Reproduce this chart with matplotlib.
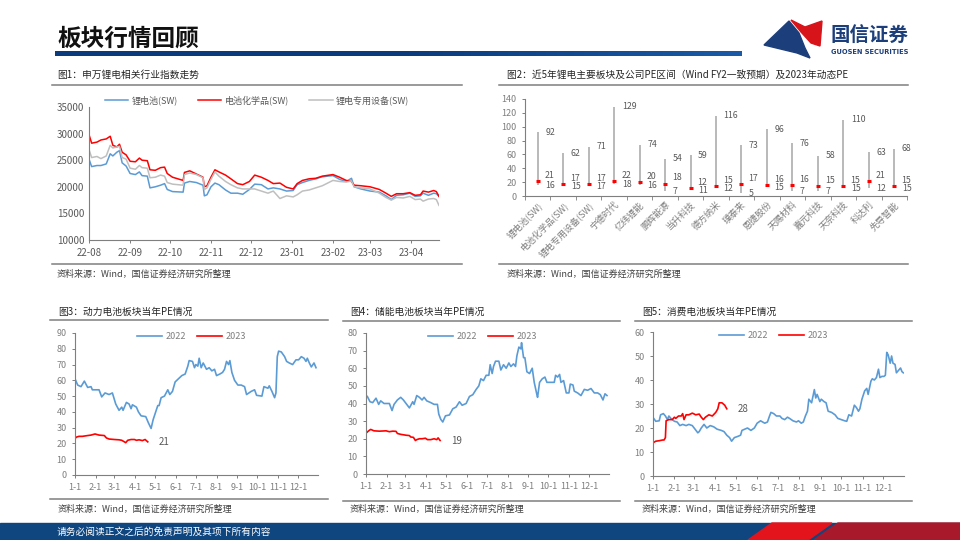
import numpy as np
import pandas as pd
import matplotlib
matplotlib.use('Agg')
import matplotlib.pyplot as plt
from matplotlib.patches import Polygon, Rectangle
from matplotlib.colors import LinearSegmentedColormap

plt.rcParams['font.family'] = ['Noto Sans CJK SC', 'DejaVu Sans']
plt.rcParams['axes.unicode_minus'] = False

# ---------------- data ----------------
# fig1: SW lithium indices
idx_dates = ['2022-08-01', '2022-08-03', '2022-08-07', '2022-08-10', '2022-08-14', '2022-08-17', '2022-08-19',
             '2022-08-22', '2022-08-24', '2022-08-26', '2022-08-29', '2022-09-01', '2022-09-05', '2022-09-08',
             '2022-09-10', '2022-09-14', '2022-09-16', '2022-09-20', '2022-09-24', '2022-09-27', '2022-09-29',
             '2022-10-03', '2022-10-11', '2022-10-12', '2022-10-16', '2022-10-21', '2022-10-26', '2022-10-27',
             '2022-10-29', '2022-11-01', '2022-11-04', '2022-11-07', '2022-11-12', '2022-11-16', '2022-11-21',
             '2022-11-25', '2022-11-30', '2022-12-04', '2022-12-09', '2022-12-14', '2022-12-18', '2022-12-23',
             '2022-12-28', '2023-01-02', '2023-01-05', '2023-01-09', '2023-01-14', '2023-01-19', '2023-01-24',
             '2023-02-01', '2023-02-06', '2023-02-11', '2023-02-15', '2023-02-17', '2023-02-22', '2023-03-01',
             '2023-03-08', '2023-03-13', '2023-03-17', '2023-03-21', '2023-03-26', '2023-03-31', '2023-04-04',
             '2023-04-08', '2023-04-10', '2023-04-14', '2023-04-18', '2023-04-20', '2023-04-22']
li_battery = [25200, 23800, 24000, 24000, 24300, 26200, 25800, 26500, 26800, 24500, 23900, 22500, 22300, 22800,
              22100, 22000, 19800, 20000, 20300, 20600, 19500, 19100, 19000, 20700, 21000, 20800, 20300, 18300,
              18500, 20000, 20700, 20400, 19400, 18800, 18800, 18600, 19500, 20500, 20400, 19600, 19800, 19600,
              19200, 19300, 20400, 20800, 21200, 21500, 21900, 22100, 21400, 21000, 21600, 20000, 19600, 19200,
              19000, 18300, 17600, 18400, 18500, 18800, 18200, 18300, 18800, 18400, 18800, 18700, 18200]
battery_chem = [29800, 28200, 28400, 28800, 29000, 29500, 27800, 27500, 28000, 26500, 26000, 24800, 24700, 25400,
                25000, 24900, 23200, 23100, 23600, 23700, 22500, 21800, 21200, 22700, 23000, 22400, 21800, 20000,
                20200, 21800, 23200, 22800, 22200, 21500, 20600, 20400, 21000, 22200, 21800, 21200, 20600, 20700,
                19900, 19600, 20600, 21200, 21500, 21600, 22000, 22300, 21800, 21200, 21000, 20300, 20200, 20000,
                19500, 18800, 18200, 18700, 18700, 18900, 18400, 18500, 19200, 19000, 19300, 19100, 18200]
li_equip = [27000, 25500, 25700, 25300, 25800, 27800, 27300, 27500, 27600, 25500, 25200, 23500, 23300, 24000,
            23600, 23500, 21700, 21800, 22200, 22000, 20800, 20500, 20300, 22300, 22600, 22300, 21700, 19500,
            19800, 21400, 22800, 22000, 21000, 20400, 19800, 19600, 19600, 19600, 19200, 18800, 19200, 17800,
            18300, 18100, 18500, 19200, 19400, 19800, 20200, 21200, 21000, 20900, 21100, 20000, 19800, 19600,
            18800, 18000, 17500, 18000, 17900, 18200, 17600, 17700, 17300, 17700, 17800, 17600, 16500]
idx_names = ['锂电池(SW)', '电池化学品(SW)', '锂电专用设备(SW)']
idx_ticks = ['2022-08-01', '2022-09-01', '2022-10-01', '2022-11-01', '2022-12-01',
             '2023-01-01', '2023-02-01', '2023-03-01', '2023-04-01']
idx_ticklabels = ['22-08', '22-09', '22-10', '22-11', '22-12', '23-01', '23-02', '23-03', '23-04']

# fig2: 5-year PE range and current PE
pe_names = ['锂电池(SW)', '电池化学品(SW)', '锂电专用设备(SW)', '宁德时代', '亿纬锂能', '鹏辉能源', '当升科技',
            '德方纳米', '璞泰来', '恩捷股份', '天赐材料', '嘉元科技', '天奈科技', '科达利', '先导智能']
pe_max = [92, 62, 71, 129, 74, 54, 59, 116, 73, 96, 76, 58, 110, 63, 68]
pe_now = [21, 17, 17, 22, 20, 18, 12, 15, 17, 16, 16, 15, 15, 21, 15]
pe_min = [16, 15, 17, 18, 16, 7, 11, 12, 5, 15, 7, 7, 15, 12, 15]

# fig3: power battery PE
p22_d = ['01-02', '01-05', '01-10', '01-15', '01-20', '01-25', '01-27', '02-06', '02-10', '02-15', '02-21', '02-26',
         '03-03', '03-08', '03-12', '03-14', '03-19', '03-23', '03-26', '03-28', '04-03', '04-06', '04-10', '04-17',
         '04-21', '04-25', '04-28', '05-05', '05-07', '05-10', '05-15', '05-20', '05-23', '05-27', '05-31', '06-05',
         '06-10', '06-15', '06-19', '06-21', '06-26', '06-29', '07-01', '07-04', '07-06', '07-09', '07-12', '07-17',
         '07-21', '07-25', '07-29', '08-01', '08-06', '08-10', '08-13', '08-16', '08-19', '08-21', '08-24', '08-28',
         '09-02', '09-07', '09-12', '09-15', '09-22', '09-27', '09-30', '10-08', '10-11', '10-17', '10-19', '10-23',
         '10-27', '10-29', '10-31', '11-02', '11-06', '11-11', '11-14', '11-18', '11-23', '11-28', '12-02', '12-06',
         '12-10', '12-13', '12-15', '12-18', '12-21', '12-25', '12-28']
p22_v = [60, 57, 56, 59.5, 55.5, 56, 54, 54, 49.5, 52, 51, 52, 45, 41, 43, 41, 46, 45, 42, 44.5, 43, 40, 37.5, 37,
         33, 29.5, 35, 44, 44, 49, 50, 54, 51, 53, 59, 61, 63, 64, 69, 72.5, 72, 68, 70, 69, 74, 68, 71, 67, 68, 66,
         67, 63, 64, 65, 67, 72, 70, 72.5, 65, 60, 57, 57, 56, 51, 53, 54, 50.5, 50, 56, 55, 56.5, 53, 49, 52, 75,
         78.5, 78, 75, 72, 71, 70, 73, 73, 75, 74, 72, 74, 71, 68.5, 71, 68]
p23_d = ['01-01', '01-03', '01-07', '01-12', '01-20', '01-25', '01-31', '02-06', '02-14', '02-17', '02-21', '03-01',
         '03-08', '03-12', '03-16', '03-18', '03-21', '03-26', '03-31', '04-03', '04-07', '04-12', '04-16', '04-20']
p23_v = [23, 24, 24.5, 24.5, 25, 25.3, 26, 25.3, 25, 23.5, 22.8, 22.5, 22.3, 22, 21, 20.5, 22, 22.5, 22.5, 22,
         22.3, 21.8, 22.5, 21]

# fig4: energy storage battery PE
s22_d = ['01-03', '01-07', '01-11', '01-16', '01-20', '01-23', '01-28', '02-05', '02-09', '02-12', '02-17', '02-22',
         '02-26', '03-02', '03-07', '03-12', '03-14', '03-18', '03-22', '03-26', '03-29', '04-02', '04-08', '04-13',
         '04-18', '04-20', '04-23', '04-26', '04-30', '05-06', '05-11', '05-16', '05-21', '05-25', '05-31', '06-05',
         '06-10', '06-15', '06-19', '06-22', '06-26', '06-30', '07-04', '07-06', '07-09', '07-11', '07-14', '07-19',
         '07-22', '07-26', '07-30', '08-03', '08-06', '08-10', '08-13', '08-15', '08-18', '08-21', '08-22', '08-25',
         '08-27', '08-30', '09-03', '09-07', '09-10', '09-14', '09-15', '09-18', '09-22', '09-26', '09-29', '10-05',
         '10-10', '10-12', '10-15', '10-18', '10-20', '10-24', '10-28', '11-01', '11-03', '11-07', '11-09', '11-14',
         '11-19', '11-24', '11-29', '12-04', '12-09', '12-14', '12-18', '12-22', '12-25', '12-28']
s22_v = [44, 41, 40.5, 43, 39.5, 41.5, 40, 40, 36, 39.5, 42, 43.5, 42, 40, 37.5, 41, 39.5, 44.5, 43.5, 42, 43.5,
         41.5, 40.5, 39.5, 39.5, 34, 31, 29.5, 33, 33.5, 37, 38, 41, 39, 40, 44, 45, 48, 50, 54, 53, 56, 56, 62, 57,
         61, 64, 64, 59, 62, 60, 63, 61, 62.5, 61, 67, 72, 71, 74.5, 66, 66, 58, 57, 60, 52, 45, 43.5, 52, 54, 55,
         52, 52, 52, 56, 55, 56.5, 52, 53, 46, 46, 51, 50.5, 47, 46, 44.5, 48, 47.5, 48.5, 46, 46, 45, 42, 45.5, 44.5]
s23_d = ['01-02', '01-05', '01-08', '01-13', '01-21', '01-31', '02-05', '02-10', '02-15', '02-17', '02-22', '03-02',
         '03-07', '03-09', '03-13', '03-16', '03-18', '03-22', '03-26', '03-31', '04-03', '04-08', '04-13', '04-17',
         '04-19', '04-22']
s23_v = [23.5, 24.5, 25.3, 24.5, 24.3, 24.5, 24, 24.3, 24.2, 23, 22.5, 22, 21.8, 21, 20.8, 19, 19.5, 20, 20, 20.3,
         19.5, 19.5, 20, 19.5, 20.5, 19]

# fig5: consumer battery PE
c22_d = ['01-02', '01-05', '01-10', '01-12', '01-16', '01-19', '01-22', '01-24', '01-27', '02-01', '02-05', '02-09',
         '02-13', '02-18', '02-22', '02-27', '03-03', '03-07', '03-09', '03-12', '03-16', '03-20', '03-25', '03-30',
         '04-04', '04-10', '04-14', '04-18', '04-22', '04-25', '04-29', '05-04', '05-08', '05-10', '05-14', '05-18',
         '05-23', '05-28', '06-01', '06-06', '06-12', '06-16', '06-19', '06-21', '06-25', '06-29', '07-04', '07-07',
         '07-11', '07-15', '07-18', '07-23', '07-28', '07-31', '08-04', '08-07', '08-10', '08-13', '08-15', '08-19',
         '08-23', '08-25', '08-27', '08-31', '09-02', '09-06', '09-09', '09-12', '09-17', '09-22', '09-26', '10-01',
         '10-06', '10-09', '10-12', '10-16', '10-20', '10-23', '10-26', '10-28', '10-31', '11-04', '11-07', '11-09',
         '11-13', '11-15', '11-18', '11-21', '11-24', '11-26', '11-29', '12-02', '12-04', '12-06', '12-08', '12-11',
         '12-13', '12-15', '12-18', '12-20', '12-23', '12-26', '12-28', '12-30']
c22_v = [24, 22.8, 23, 25.5, 26, 25, 23.5, 25, 24, 22.8, 22.5, 21, 21.5, 21, 21.5, 21, 19.5, 18, 18.5, 20, 21.5,
         20, 21, 20.5, 19.5, 19, 18.5, 17, 16, 14.5, 16, 16.5, 17, 19, 19.5, 20, 19, 20, 22, 23, 22, 22.5, 25, 26.5,
         26, 25, 25, 24, 23.5, 24.5, 24, 23, 22.5, 23, 22, 22.5, 25, 27, 32, 30.5, 36, 32.5, 34, 31, 32, 31, 30.5,
         27, 26.5, 25.5, 24, 23.5, 23, 22.8, 25.5, 25, 29.5, 28.5, 27, 28, 32, 35.5, 36.5, 34, 39.5, 40.5, 40, 41,
         44.5, 41, 41.5, 41.5, 42, 51.5, 50.5, 47, 50, 47, 46.5, 43, 44, 45, 43.5, 43]
c23_d = ['01-02', '01-05', '01-10', '01-15', '01-17', '01-19', '01-20', '01-24', '01-29', '02-01', '02-03', '02-07',
         '02-11', '02-13', '02-15', '02-18', '02-22', '02-27', '03-04', '03-09', '03-12', '03-15', '03-18', '03-23',
         '03-28', '04-02', '04-05', '04-07', '04-11', '04-15', '04-18']
c23_v = [14, 14.5, 14.7, 15, 15, 16, 23, 23.5, 23.5, 24.5, 24, 25, 25, 26, 23.5, 25.5, 25.5, 26.2, 25.5, 25.8,
         24.5, 23.5, 24.5, 25.5, 25, 26.5, 28, 30.5, 30.5, 29.5, 28]

month_ticks = ['01-01', '02-01', '03-01', '04-01', '05-01', '06-01', '07-01', '08-01', '09-01', '10-01', '11-01', '12-01']
month_labels = ['1-1', '2-1', '3-1', '4-1', '5-1', '6-1', '7-1', '8-1', '9-1', '10-1', '11-1', '12-1']

BLUE = '#5B9BD5'
RED = '#FF0000'
GRAY = '#BFBFBF'
TXT = '#595959'
AX = '#7F7F7F'
source = '资料来源：Wind，国信证券经济研究所整理'


def doy(lst):
    return [pd.Timestamp('2022-' + s).dayofyear - 1 for s in lst]


W, H = 960, 540
fig = plt.figure(figsize=(9.6, 5.4), dpi=100)

bg = fig.add_axes([0, 0, 1, 1])
bg.set_xlim(0, W)
bg.set_ylim(H, 0)
bg.axis('off')


def box(l, t, r, b):
    return fig.add_axes([l / W, 1 - b / H, (r - l) / W, (b - t) / H])


# ---------------- header / footer ----------------
bg.text(57, 39, '板块行情回顾', fontsize=17, fontweight='bold', color='#111111', va='center')
cm = LinearSegmentedColormap.from_list('hb', ['#0b3b7c', '#0b3b7c', '#1a5aa6'])
bg.imshow(np.linspace(0, 1, 200).reshape(1, -1), cmap=cm, aspect='auto', extent=(55, 742, 56.5, 51.5), zorder=1)
bg.add_patch(Polygon([(764, 45), (789, 21), (799, 33), (805, 48), (810, 58), (797, 53)], closed=True,
                     color='#1c3f7c', zorder=2))
bg.add_patch(Polygon([(791, 20), (805, 27), (822, 21), (820, 46), (811, 43), (801, 32)], closed=True,
                     color='#d7141a', zorder=2))
bg.text(830, 36, '国信证券', fontsize=14, fontweight='bold', color='#1c3f7c', va='center')
bg.text(831, 52, 'GUOSEN SECURITIES', fontsize=4.8, fontweight='bold', color='#1c3f7c', va='center',
        family='DejaVu Sans')

bg.add_patch(Rectangle((0, 523), 960, 17, color='#0f467f', zorder=1))
bg.add_patch(Polygon([(748, 540), (772, 523), (832, 523), (808, 540)], closed=True, color='#e3141c', zorder=2))
bg.add_patch(Polygon([(814, 540), (838, 523), (960, 523), (960, 540)], closed=True, color='#a8192c', zorder=2))
bg.text(57, 531.5, '请务必阅读正文之后的免责声明及其项下所有内容', fontsize=7, color='white', va='center')

# panel frames: titles, rules, sources
panels = [
    (57, 75, 52, 462, 85, 264, 274, '图1：申万锂电相关行业指数走势'),
    (507, 75, 499, 908, 85, 264, 274, '图2：近5年锂电主要板块及公司PE区间（Wind FY2一致预期）及2023年动态PE'),
    (58, 312, 50, 328, 320, 499, 509, '图3：动力电池板块当年PE情况'),
    (350, 312, 343, 620, 321, 501, 509, '图4：储能电池板块当年PE情况'),
    (642, 312, 635, 912, 321, 501, 509, '图5：消费电池板块当年PE情况'),
]
for tx, ty, x0, x1, ytop, ybot, ysrc, title in panels:
    bg.text(tx, ty, title, fontsize=7, color='#262626', va='center')
    bg.plot([x0, x1], [ytop, ytop], color='#7f7f7f', lw=1.1)
    bg.plot([x0, x1], [ybot, ybot], color='#7f7f7f', lw=1.1)
    bg.text(tx, ysrc, source, fontsize=6.5, color='#404040', va='center')


def style(ax):
    for s in ['top', 'right']:
        ax.spines[s].set_visible(False)
    for s in ['left', 'bottom']:
        ax.spines[s].set_color(AX)
        ax.spines[s].set_linewidth(0.8)
    ax.tick_params(colors=AX, labelcolor=TXT, labelsize=6.5, length=2.5, width=0.7)
    ax.patch.set_alpha(0)


# ---------------- fig1 ----------------
ax1 = box(89, 107, 439, 240)
d = pd.to_datetime(idx_dates)
ax1.plot(d, li_battery, color=BLUE, lw=1.1, label=idx_names[0])
ax1.plot(d, battery_chem, color=RED, lw=1.1, label=idx_names[1])
ax1.plot(d, li_equip, color=GRAY, lw=1.1, label=idx_names[2])
ax1.set_ylim(10000, 35000)
ax1.set_yticks(range(10000, 35001, 5000))
ax1.set_xlim(pd.Timestamp('2022-08-01'), pd.Timestamp('2023-04-22'))
ax1.set_xticks(pd.to_datetime(idx_ticks))
ax1.set_xticklabels(idx_ticklabels)
style(ax1)
ax1.tick_params(axis='y', length=0, labelsize=7)
ax1.tick_params(axis='x', labelsize=7)
leg = ax1.legend(loc='center', bbox_to_anchor=(0.48, 1.05), ncol=3, frameon=False, fontsize=6.5,
                 handlelength=2.6, columnspacing=2.2, handletextpad=0.4)
for t in leg.get_texts():
    t.set_color(TXT)

# ---------------- fig2 ----------------
ax2 = box(525, 99, 907, 196)
x = np.arange(len(pe_names))
ax2.vlines(x, pe_min, pe_max, color='#a6a6a6', lw=1.1)
ax2.plot(x, pe_now, ls='none', marker='_', ms=3.5, mew=2.2, color=RED)
for i in x:
    y_now = pe_now[i] + 8
    y_min = min(pe_min[i] - 1, y_now - 12)
    ax2.text(i + 0.3, pe_max[i], str(pe_max[i]), fontsize=6.3, color=TXT, va='center')
    ax2.text(i + 0.28, y_now, str(pe_now[i]), fontsize=6.3, color=TXT, va='center')
    ax2.text(i + 0.3, y_min, str(pe_min[i]), fontsize=6.3, color=TXT, va='center')
ax2.set_xlim(-0.5, len(pe_names) - 0.5)
ax2.set_ylim(0, 140)
ax2.set_yticks(range(0, 141, 20))
ax2.set_xticks(x)
ax2.set_xticklabels(pe_names, rotation=45, ha='right', rotation_mode='anchor')
ax2.set_xticks(np.arange(-0.5, len(pe_names), 1), minor=True)
style(ax2)
ax2.tick_params(axis='x', which='major', length=0, labelsize=6.5, labelcolor='#7f7f7f', pad=3)
ax2.tick_params(axis='x', which='minor', length=3, color=AX)
ax2.tick_params(axis='y', labelcolor='#7f7f7f')


# ---------------- fig3-5 ----------------
def pe_panel(rect, ymax, d22, v22, d23, v23):
    ax = box(*rect)
    ax.plot(doy(d22), v22, color=BLUE, lw=1.2, label='2022')
    ax.plot(doy(d23), v23, color=RED, lw=1.2, label='2023')
    ax.annotate(f'{v23[-1]:.0f}', (doy(d23)[-1], v23[-1]), xytext=(8, 0), textcoords='offset points',
                fontsize=7, color=TXT, va='center')
    ax.set_xlim(0, 364)
    ax.set_ylim(0, ymax)
    ax.set_yticks(range(0, ymax + 1, 10))
    ax.set_xticks(doy(month_ticks))
    ax.set_xticklabels(month_labels)
    style(ax)
    ax.tick_params(labelcolor='#7f7f7f')
    lg = ax.legend(loc='center', bbox_to_anchor=(0.48, 0.975), ncol=2, frameon=False, fontsize=6.5,
                   handlelength=2.8, columnspacing=1.2, handletextpad=0.4)
    for t in lg.get_texts():
        t.set_color('#7f7f7f')
    return ax


pe_panel((75, 333, 318, 475), 90, p22_d, p22_v, p23_d, p23_v)
pe_panel((366, 333, 609, 474), 80, s22_d, s22_v, s23_d, s23_v)
pe_panel((653, 332, 904, 476), 60, c22_d, c22_v, c23_d, c23_v)

fig.savefig('out.png', dpi=100)
